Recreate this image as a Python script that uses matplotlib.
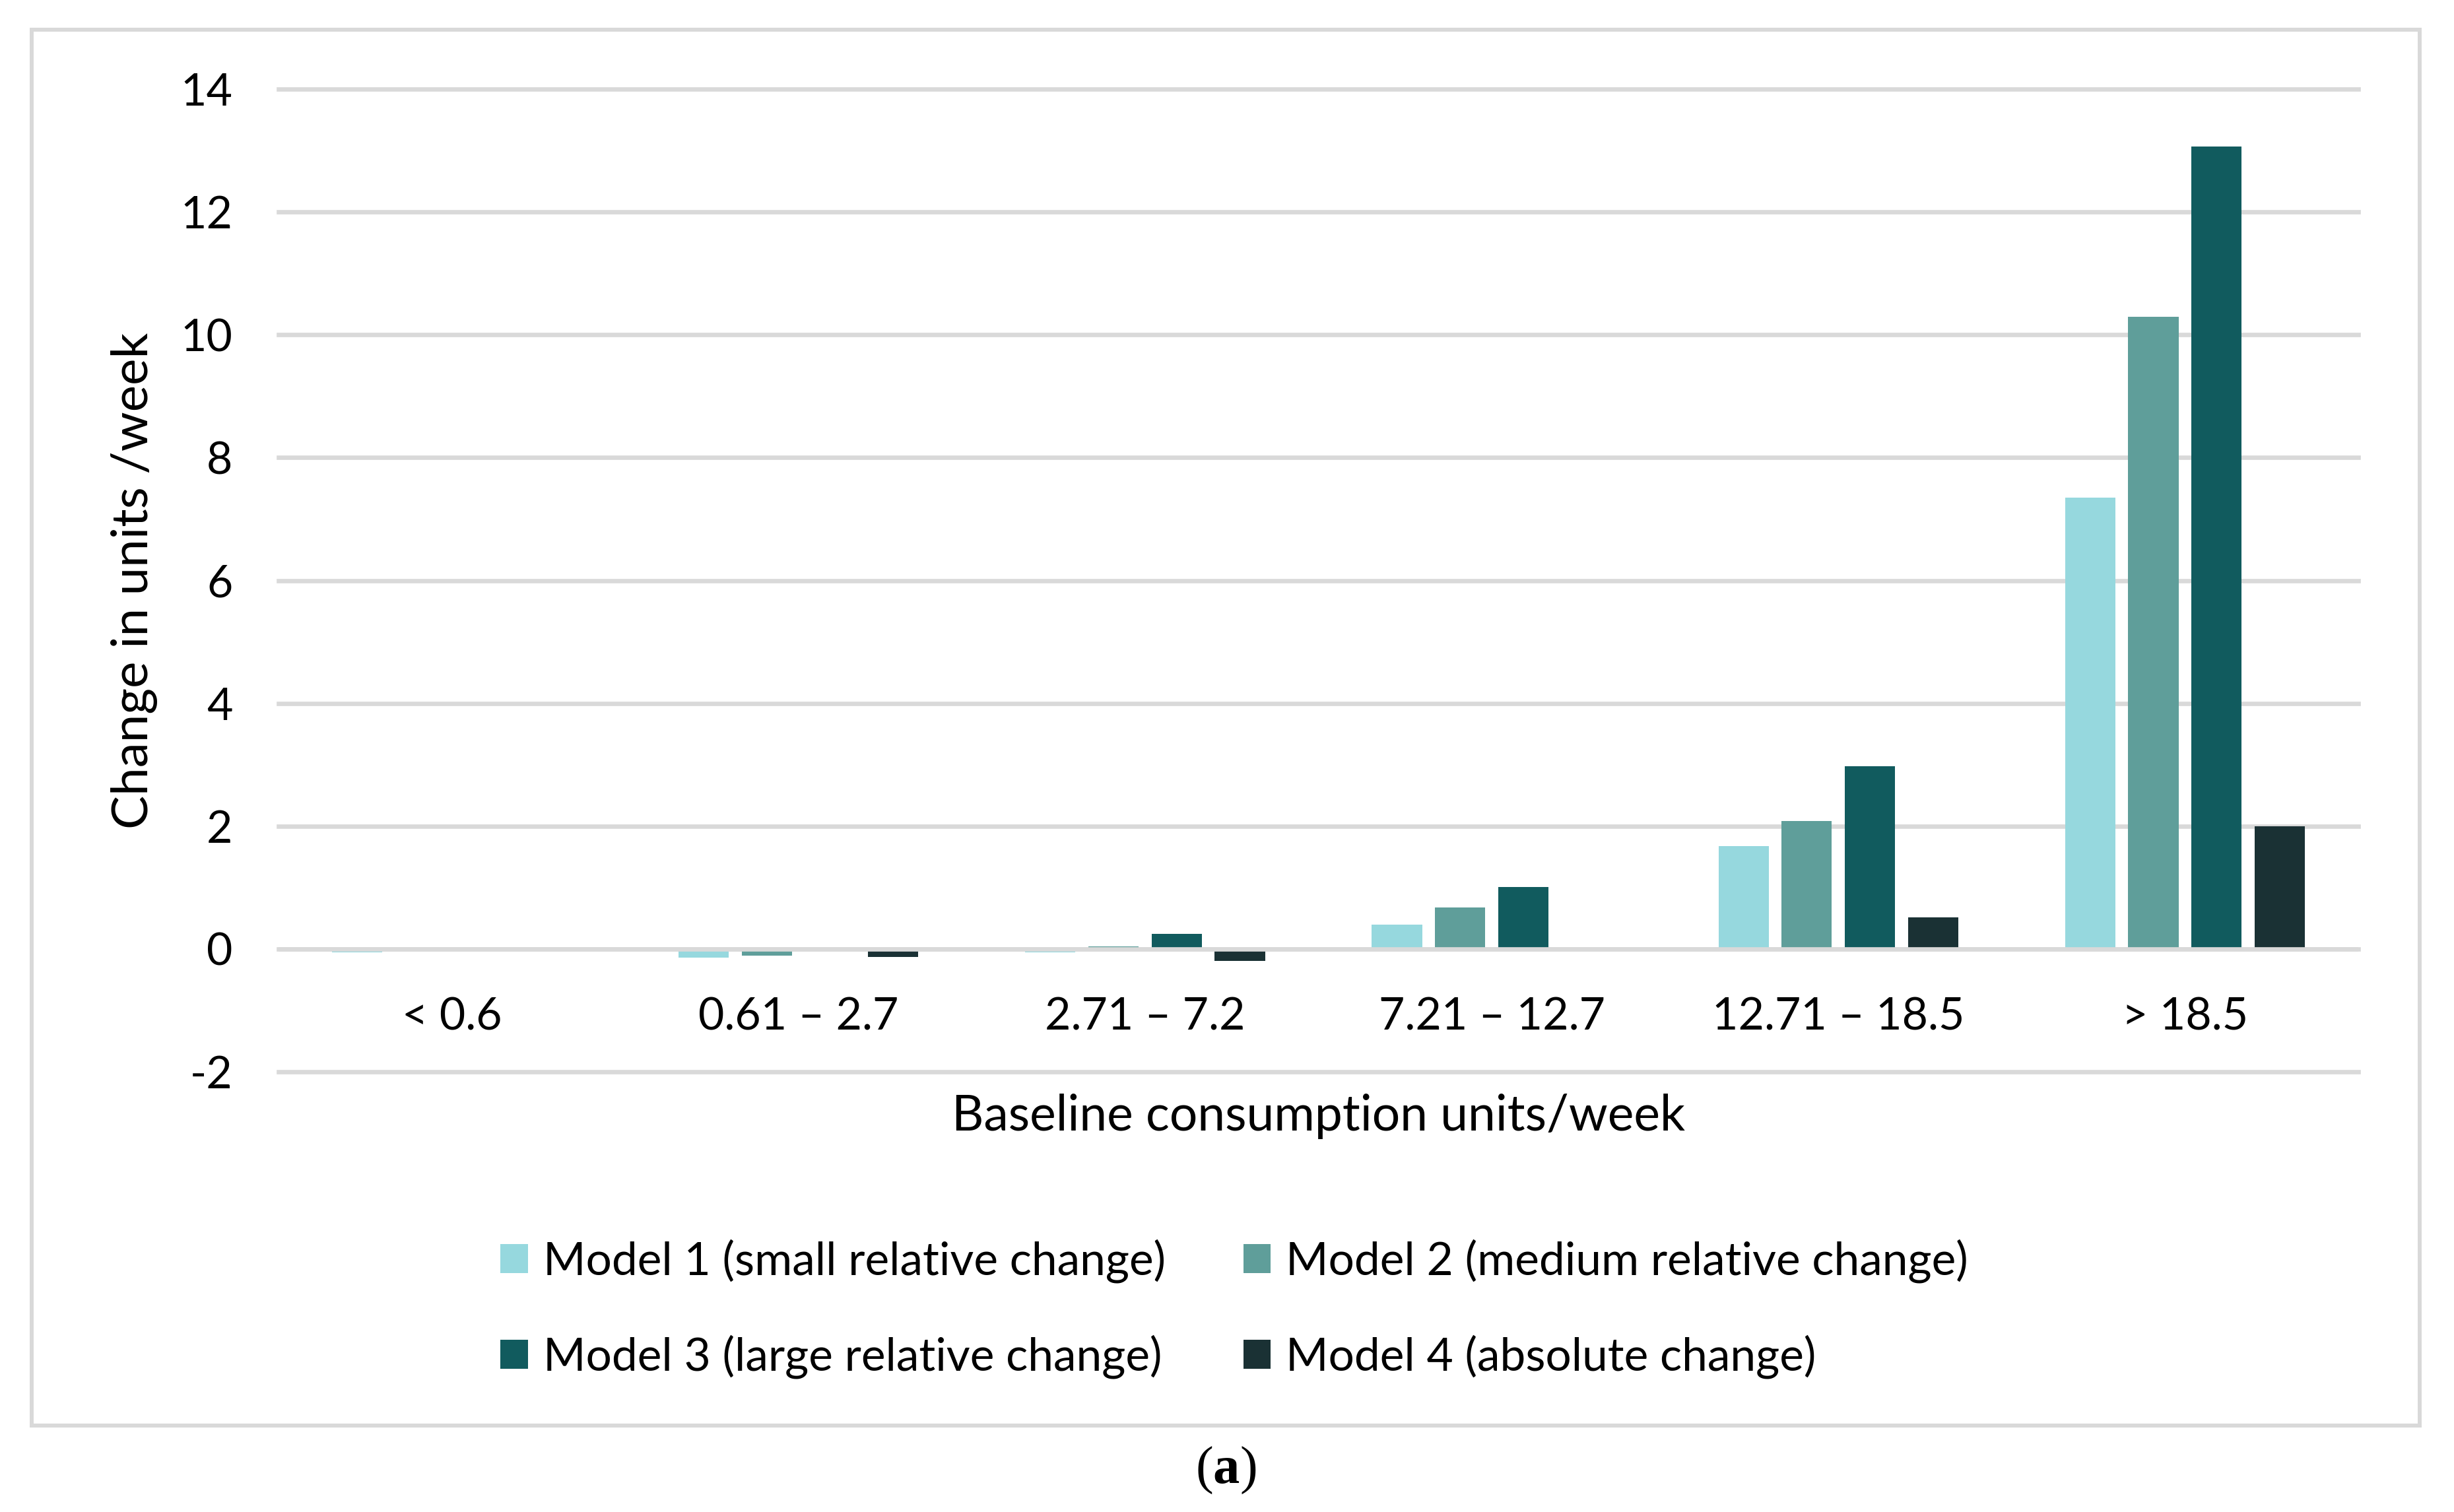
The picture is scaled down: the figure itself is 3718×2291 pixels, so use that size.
import numpy as np
import matplotlib
matplotlib.use("Agg")
import matplotlib.pyplot as plt
from matplotlib.patches import Rectangle

# values (units/week)
categories = ["< 0.6", "0.61 \u2013 2.7", "2.71 \u2013 7.2", "7.21 \u2013 12.7", "12.71 \u2013 18.5", "> 18.5"]
model1 = [-0.05, -0.14, -0.05, 0.40, 1.67, 7.35]
model2 = [0.00, -0.11, 0.04, 0.68, 2.08, 10.29]
model3 = [0.00, 0.00, 0.25, 1.01, 2.97, 13.06]
model4 = [0.00, -0.13, -0.19, 0.00, 0.51, 2.00]
series_names = ["Model 1 (small relative change)", "Model 2 (medium relative change)",
                "Model 3 (large relative change)", "Model 4 (absolute change)"]
colors = ["#96D8DE", "#5F9E9A", "#115B5E", "#1A3134"]
yticks = [-2, 0, 2, 4, 6, 8, 10, 12, 14]

plt.rcParams["font.family"] = ["Lato", "DejaVu Sans"]
plt.rcParams["mathtext.fontset"] = "custom"
plt.rcParams["mathtext.bf"] = "Liberation Serif:bold"

W, H = 3718, 2291
fig = plt.figure(figsize=(W / 100, H / 100), dpi=100)
ax = fig.add_axes([422 / W, (H - 1624) / H, (3573 - 422) / W, (1624 - 135) / H])

grid_c = "#D9D9D9"
x = np.arange(len(categories))
bw = 0.145
step = 0.1823
series = [model1, model2, model3, model4]
handles = []
for i, (vals, c) in enumerate(zip(series, colors)):
    off = (i - 1.5) * step
    b = ax.bar(x + off, vals, width=bw, color=c, zorder=2, label=series_names[i])
    handles.append(b)

ax.set_xlim(-0.5, len(categories) - 0.5)
ax.set_ylim(-2, 14)
ax.set_yticks(yticks)
ax.set_yticklabels([str(t) for t in yticks])
ax.yaxis.grid(True, color=grid_c, linewidth=4.8, zorder=0)
ax.set_axisbelow(True)
for gl in ax.get_ygridlines():
    gl.set_clip_on(False)
# horizontal axis line at zero drawn over the bars
ax.axhline(0, color=grid_c, linewidth=4.8, zorder=3)

for s in ax.spines.values():
    s.set_visible(False)
ax.spines["bottom"].set_position(("data", 0))
ax.set_xticks(x)
ax.set_xticklabels(categories)
ax.tick_params(axis="both", length=0, labelsize=49, colors="black")
ax.tick_params(axis="x", pad=52)
ax.tick_params(axis="y", pad=50)

ax.text(0.5, -0.045, "Baseline consumption units/week", transform=ax.transAxes,
        ha="center", va="center", fontsize=54)
ax.text(-0.0695, 0.5, "Change in units /week", transform=ax.transAxes,
        ha="center", va="center", rotation=90, fontsize=55)

order = [0, 2, 1, 3]
leg = fig.legend([handles[k] for k in order], [series_names[k] for k in order],
                 loc="center", bbox_to_anchor=(1870 / W, 1 - 1983 / H), ncol=2,
                 frameon=False, fontsize=50, handlelength=0.6, handleheight=0.6,
                 handletextpad=0.33, columnspacing=1.7, labelspacing=1.12)

# outer chart border
fig.patches.append(Rectangle((47.5 / W, 1 - 2160 / H), (3665.5 - 47.5) / W, (2160 - 45) / H,
                             transform=fig.transFigure, fill=False, edgecolor=grid_c,
                             linewidth=4.3))

fig.text(1857 / W, 1 - 2228 / H, r"($\mathbf{a}$)", ha="center", va="center",
         fontsize=58, family="Liberation Serif")

fig.savefig("out.png", dpi=100, facecolor="white")
